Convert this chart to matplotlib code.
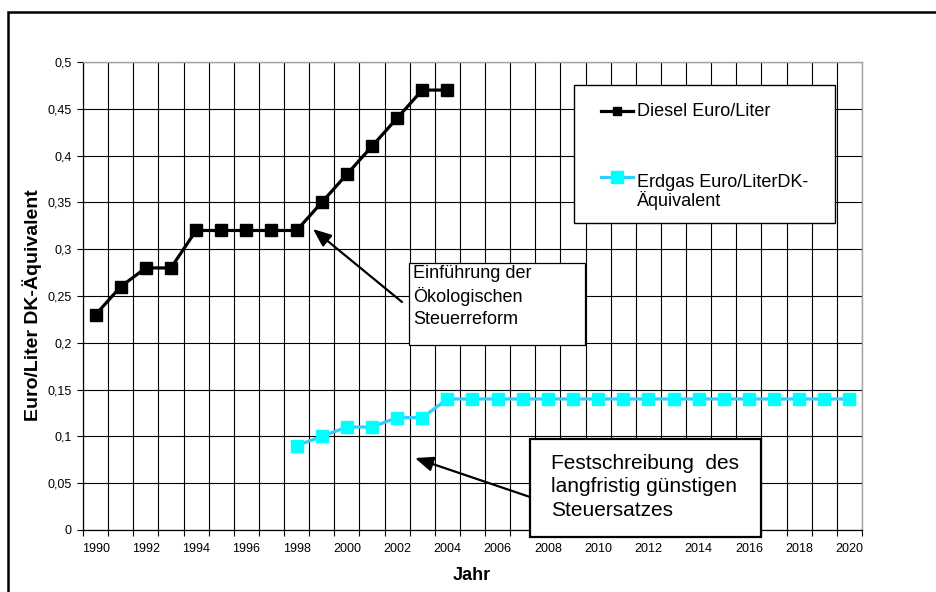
import matplotlib
matplotlib.use("Agg")
import matplotlib.pyplot as plt
from matplotlib.patches import Rectangle
from matplotlib.lines import Line2D
import numpy as np

plt.rcParams['font.family'] = ['Liberation Sans', 'DejaVu Sans']

years = list(range(1990, 2021))
diesel_years = list(range(1990, 2005))
diesel_values = [0.23, 0.26, 0.28, 0.28, 0.32, 0.32, 0.32, 0.32, 0.32,
                 0.35, 0.38, 0.41, 0.44, 0.47, 0.47]
erdgas_years = list(range(1998, 2021))
erdgas_values = [0.09, 0.10, 0.11, 0.11, 0.12, 0.12] + [0.14] * 17
y_ticks = [0, 0.05, 0.1, 0.15, 0.2, 0.25, 0.3, 0.35, 0.4, 0.45, 0.5]
x_tick_years = list(range(1990, 2021, 2))

W, H = 937, 592
fig = plt.figure(figsize=(W / 100, H / 100), dpi=100)
fig.patch.set_facecolor('white')

def fx(px):
    return px / W

def fy(py):
    return 1 - py / H

ax = fig.add_axes([fx(83), fy(530), fx(862) - fx(83), fy(62) - fy(530)])

idx = {y: i for i, y in enumerate(years)}
dx = [idx[y] for y in diesel_years]
ex = [idx[y] for y in erdgas_years]

ax.plot(dx, diesel_values, color='black', lw=2.3, marker='s', ms=8.5,
        mfc='black', mec='black', zorder=5, solid_joinstyle='miter')
ax.plot(ex, erdgas_values, color='#33CCFF', lw=2.3, marker='s', ms=8.5,
        mfc='#00FFFF', mec='#00FFFF', zorder=5)

ax.set_xlim(-0.5, len(years) - 0.5)
ax.set_ylim(0, 0.5)
ax.set_xticks([idx[y] for y in x_tick_years])
ax.set_xticklabels([str(y) for y in x_tick_years])
ax.set_xticks(np.arange(-0.5, len(years), 1.0), minor=True)
ax.tick_params(axis='x', which='major', length=0, pad=9, labelsize=9)
ax.tick_params(axis='x', which='minor', length=4, width=0.8, direction='out')
ax.set_yticks(y_ticks)
ax.set_yticklabels([f"{v:g}".replace('.', ',') for v in y_ticks])
ax.tick_params(axis='y', length=4, width=0.8, direction='out', pad=4, labelsize=9)

ax.grid(True, which='minor', axis='x', color='black', lw=0.8)
ax.grid(True, which='major', axis='y', color='black', lw=0.8)
ax.set_axisbelow(True)
for s in ['left', 'bottom']:
    ax.spines[s].set_color('black')
    ax.spines[s].set_linewidth(0.9)
for s in ['top', 'right']:
    ax.spines[s].set_color('#A0A0A0')
    ax.spines[s].set_linewidth(1.0)

# outer frame
fig.add_artist(Rectangle((fx(8), -0.1), 1.2, fy(12) + 0.1, transform=fig.transFigure,
                         fill=False, edgecolor='black', lw=1.8))

# axis titles
fig.text(fx(32), fy(305), 'Euro/Liter DK-Äquivalent', rotation=90, ha='center',
         va='center', fontsize=14, fontweight='bold')
fig.text(fx(472), fy(575), 'Jahr', ha='center', va='center', fontsize=13,
         fontweight='bold')

# legend (manual)
fig.add_artist(Rectangle((fx(574), fy(223)), fx(835) - fx(574), fy(85) - fy(223),
                         transform=fig.transFigure, facecolor='white',
                         edgecolor='black', lw=1.0, zorder=10))
fig.add_artist(Line2D([fx(601), fx(633)], [fy(111), fy(111)], color='black', lw=2.3,
                      transform=fig.transFigure, zorder=11))
fig.add_artist(Line2D([fx(617)], [fy(111)], color='black', marker='s', ms=5.5,
                      transform=fig.transFigure, zorder=12))
fig.text(fx(637), fy(111), 'Diesel Euro/Liter', ha='left', va='center', fontsize=13,
         zorder=12)
fig.add_artist(Line2D([fx(601), fx(633)], [fy(177), fy(177)], color='#33CCFF', lw=2.3,
                      transform=fig.transFigure, zorder=11))
fig.add_artist(Line2D([fx(617)], [fy(177)], color='#00FFFF', marker='s', ms=8.5,
                      transform=fig.transFigure, zorder=12))
fig.text(fx(637), fy(174), 'Erdgas Euro/LiterDK-\nÄquivalent', ha='left', va='top',
         fontsize=13, linespacing=1.0, zorder=12)

# annotation box 1
fig.add_artist(Rectangle((fx(409), fy(345)), fx(585) - fx(409), fy(263) - fy(345),
                         transform=fig.transFigure, facecolor='white',
                         edgecolor='black', lw=0.9, zorder=10))
fig.text(fx(413), fy(265), 'Einführung der\nÖkologischen\nSteuerreform', ha='left',
         va='top', fontsize=13, linespacing=1.35, zorder=12)

# annotation box 2
fig.add_artist(Rectangle((fx(530), fy(537)), fx(761) - fx(530), fy(439) - fy(537),
                         transform=fig.transFigure, facecolor='white',
                         edgecolor='black', lw=1.6, zorder=10))
fig.text(fx(551), fy(454), 'Festschreibung  des\nlangfristig günstigen\nSteuersatzes',
         ha='left', va='top', fontsize=15, linespacing=1.3, zorder=12)

# arrows
arrowprops = dict(arrowstyle='-|>,head_length=1.1,head_width=0.45', color='black',
                  lw=1.6, shrinkA=0, shrinkB=0)
ax.annotate('', xy=(313, H - 229), xycoords='figure pixels',
            xytext=(402, H - 302), textcoords='figure pixels', arrowprops=arrowprops,
            zorder=9)
ax.annotate('', xy=(415, H - 458), xycoords='figure pixels',
            xytext=(530, H - 497), textcoords='figure pixels', arrowprops=arrowprops,
            zorder=9)

fig.savefig('out.png', dpi=100)
